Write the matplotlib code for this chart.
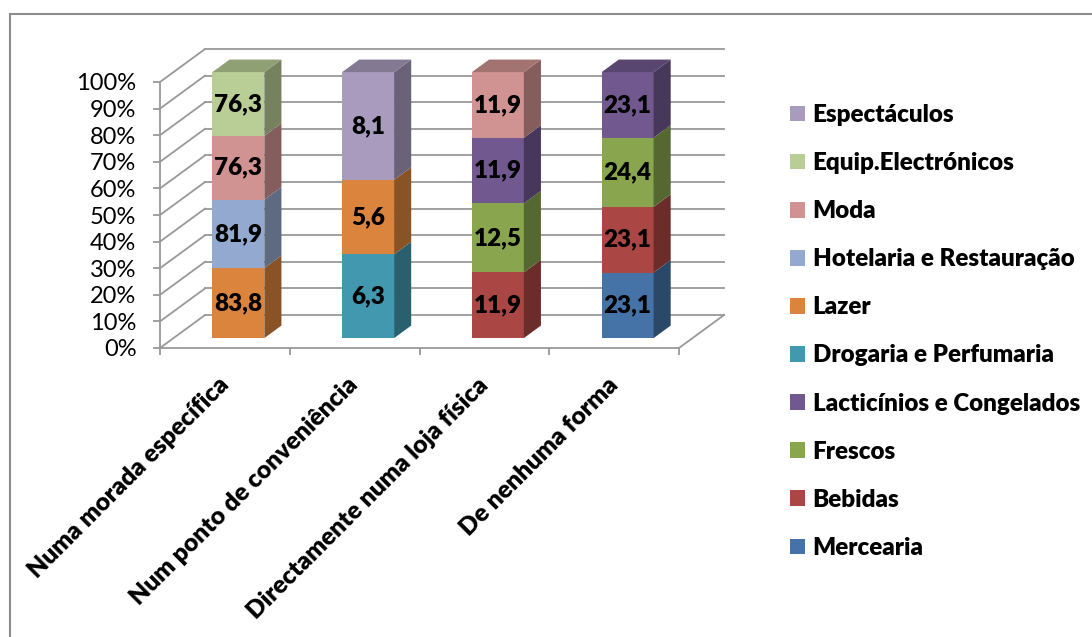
import numpy as np
import matplotlib
matplotlib.use("Agg")
import matplotlib.pyplot as plt
from matplotlib.patches import Polygon, Patch, Rectangle
from matplotlib.ticker import PercentFormatter
from matplotlib.colors import to_rgb

plt.rcParams['font.family'] = ['Lato', 'DejaVu Sans']

categories = ['Numa morada específica', 'Num ponto de conveniência',
              'Directamente numa loja física', 'De nenhuma forma']

# series, bottom of the stack first
series = ['Mercearia', 'Bebidas', 'Frescos', 'Lacticínios e Congelados',
          'Drogaria e Perfumaria', 'Lazer', 'Hotelaria e Restauração',
          'Moda', 'Equip.Electrónicos', 'Espectáculos']
colors = ['#4572A7', '#AA4643', '#89A54E', '#71588F', '#4198AF',
          '#DB843D', '#93A9CF', '#D19392', '#B9CD96', '#A99BBD']

mercearia = [0, 0, 0, 23.1]
bebidas = [0, 0, 11.9, 23.1]
frescos = [0, 0, 12.5, 24.4]
lacticinios = [0, 0, 11.9, 23.1]
drogaria = [0, 6.3, 0, 0]
lazer = [83.8, 5.6, 0, 0]
hotelaria = [81.9, 0, 0, 0]
moda = [76.3, 0, 11.9, 0]
equip = [76.3, 0, 0, 0]
espectaculos = [0, 8.1, 0, 0]

values = np.array([mercearia, bebidas, frescos, lacticinios, drogaria,
                   lazer, hotelaria, moda, equip, espectaculos], dtype=float)
pct = values / values.sum(axis=0) * 100

W, H = 1092, 637
fig = plt.figure(figsize=(W / 100, H / 100), dpi=100)
ax = fig.add_axes([160 / W, (H - 348) / H, 519 / W, 266 / H])
ax.set_xlim(0, 4)
ax.set_ylim(0, 100)

# oblique depth of the floor / walls (data units)
DX, DY = 0.347, 12.4
# bars sit between these depth fractions
D0, D1 = 0.30, 0.68
BW = 0.4

grid_c = '#989898'
ticks = np.arange(0, 101, 10)
for v in ticks:
    ax.plot([DX, 4 + DX], [v + DY, v + DY], color=grid_c, lw=1.3,
            clip_on=False, zorder=1)
    ax.plot([0, DX], [v, v + DY], color=grid_c, lw=1.3, clip_on=False, zorder=1)
ax.plot([4, 4 + DX], [0, DY], color=grid_c, lw=1.3, clip_on=False, zorder=1)


def shade(c, f):
    r, g, b = to_rgb(c)
    return (r * f, g * f, b * f)


bx0 = D0 * DX
by0 = D0 * DY
ddx = (D1 - D0) * DX
ddy = (D1 - D0) * DY
for j in range(len(categories)):
    xc = j + 0.5 + bx0
    xl, xr = xc - BW / 2, xc + BW / 2
    cum = 0.0
    top_color = None
    for i, name in enumerate(series):
        p = pct[i, j]
        if p <= 0:
            continue
        y0 = by0 + cum
        y1 = y0 + p
        ax.bar(xc, p, bottom=y0, width=BW, color=colors[i], linewidth=0,
               zorder=3, clip_on=False)
        side = Polygon([(xr, y0), (xr + ddx, y0 + ddy), (xr + ddx, y1 + ddy), (xr, y1)],
                       closed=True, facecolor=shade(colors[i], 0.63),
                       edgecolor='none', zorder=3, clip_on=False)
        ax.add_patch(side)
        lbl = f"{values[i, j]:.1f}".replace('.', ',')
        ax.text(xc, y0 + p / 2, lbl, ha='center', va='center', fontsize=17.5,
                fontweight='heavy', color='black', zorder=5)
        cum += p
        top_color = colors[i]
    ytop = by0 + cum
    top = Polygon([(xl, ytop), (xr, ytop), (xr + ddx, ytop + ddy), (xl + ddx, ytop + ddy)],
                  closed=True, facecolor=shade(top_color, 0.78), edgecolor='none',
                  zorder=3, clip_on=False)
    ax.add_patch(top)

# axes styling
for s in ['top', 'right']:
    ax.spines[s].set_visible(False)
for s in ['left', 'bottom']:
    ax.spines[s].set_color(grid_c)
    ax.spines[s].set_linewidth(1.3)
    ax.spines[s].set_zorder(2)

ax.set_yticks(ticks)
ax.yaxis.set_major_formatter(PercentFormatter(decimals=0))
ax.tick_params(axis='y', length=5, width=1.3, color=grid_c, pad=12,
               labelsize=17, labelcolor='black')

ax.set_xticks(np.arange(len(categories)) + 0.5)
ax.set_xticks(np.arange(len(categories) + 1), minor=True)
ax.set_xticklabels(categories, rotation=45, ha='right', va='center',
                   rotation_mode='anchor', fontsize=17.7, fontweight='heavy')
ax.tick_params(axis='x', which='major', length=0, pad=24)
ax.tick_params(axis='x', which='minor', length=5, width=1.3, color=grid_c)

# legend, top entry first
handles = [Patch(facecolor=c, edgecolor='none') for c in colors[::-1]]
fig.legend(handles, series[::-1], loc='upper left',
           bbox_to_anchor=(790 / W, (H - 104) / H), frameon=False,
           prop={'size': 17.4, 'weight': 'heavy'},
           handlelength=0.62, handleheight=0.62, handletextpad=0.32,
           labelspacing=1.08, borderpad=0, borderaxespad=0)

# chart area border
fig.add_artist(Rectangle((9.5 / W, -0.1), 1.2, (H - 14) / H + 0.1,
                         transform=fig.transFigure, fill=False,
                         edgecolor='#8C8C8C', linewidth=1.5))

fig.savefig('out.png', dpi=100)
